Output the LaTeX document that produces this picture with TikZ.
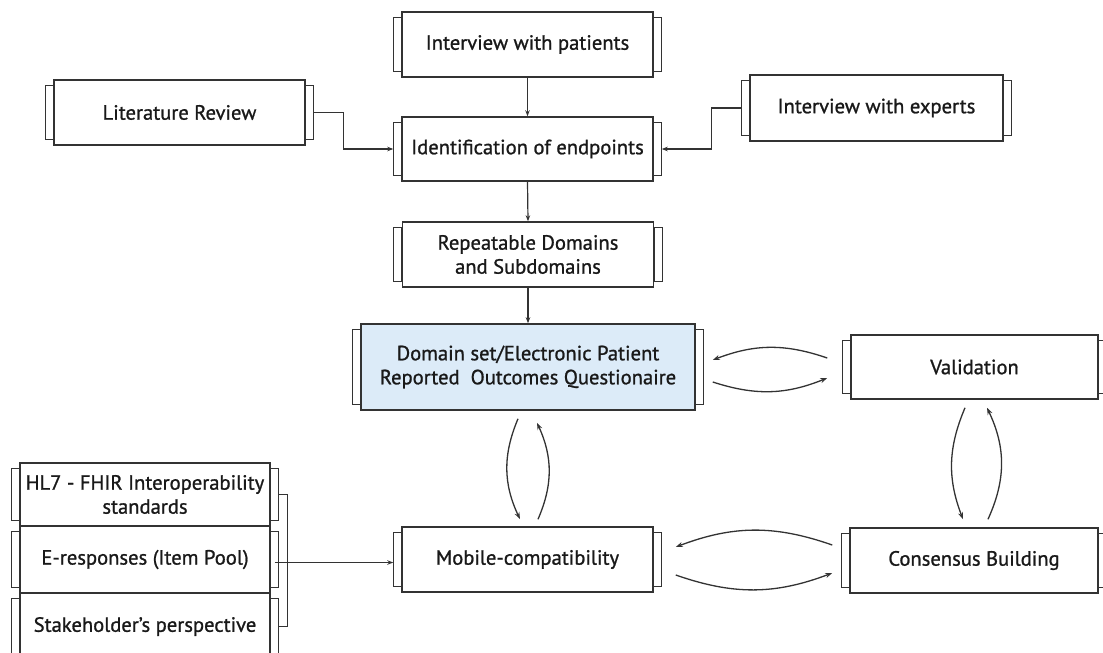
\documentclass[tikz,border=0pt]{standalone}
\usepackage{fontspec}
\setmainfont{PT Sans}
\newfontfamily\boxfont{PT Sans}[FakeBold=1.0]
\usetikzlibrary{arrows.meta,calc}
\definecolor{linec}{HTML}{333333}
\definecolor{domfill}{HTML}{DCEBF8}
\tikzset{
  procbox/.style={draw=linec, line width=1.5pt, fill=white, rectangle, inner sep=0pt, align=center,
    font=\boxfont\fontsize{20.6}{24}\selectfont, text=black!90},
  tabst/.style={draw=linec, line width=1.2pt, fill=white},
  conn/.style={draw=linec, line width=1.2pt, -{Stealth[length=6pt,width=4.5pt]}},
  arc/.style={draw=linec, line width=1.3pt, -{Stealth[length=7pt,width=5pt]}},
  plain/.style={draw=linec, line width=1.2pt}
}
\begin{document}
\begin{tikzpicture}[x=1pt,y=-1pt]
\clip (0,0) rectangle (1103,653);
\fill[white] (0,0) rectangle (1103,653);
% boxes
\node[procbox, minimum width=251pt, minimum height=65pt] (pat) at (527.5,44.5) {Interview with patients};
\node[procbox, minimum width=251pt, minimum height=64pt] (ident) at (527.5,149) {Identification of endpoints};
\node[procbox, minimum width=251pt, minimum height=65pt] (lit) at (179.5,112.5) {Literature Review};
\node[procbox, minimum width=253pt, minimum height=66pt] (exp) at (876.5,108) {Interview with experts};
\node[procbox, minimum width=251pt, minimum height=65pt] (rep) at (528,254.5) {Repeatable Domains\\and Subdomains};
\node[procbox, fill=domfill, minimum width=334pt, minimum height=86pt] (dom) at (528,367) {Domain set/Electronic Patient\\Reported\ \ Outcomes Questionaire};
\node[procbox, minimum width=247pt, minimum height=64pt] (val) at (974.5,367) {Validation};
\node[procbox, minimum width=251pt, minimum height=65pt] (mob) at (527.5,559.5) {Mobile-compatibility};
\node[procbox, minimum width=248pt, minimum height=65pt] (con) at (974,560.5) {Consensus Building};
\node[procbox, minimum width=250pt, minimum height=63pt] (hl7) at (145,494.5) {HL7 - FHIR Interoperability\\standards};
\node[procbox, minimum width=250pt, minimum height=67pt] (eres) at (145,559.5) {E-responses (Item Pool)};
\node[procbox, minimum width=250pt, minimum height=67pt] (stake) at (145,626.5) {Stakeholder’s perspective};
% side tabs
\foreach \n in {pat,ident,lit,exp,rep,dom,val,mob,con,hl7,eres,stake}{
  \draw[tabst] ([yshift=-6pt]\n.north west) rectangle ([xshift=-8pt,yshift=6pt]\n.south west);
  \draw[tabst] ([yshift=-6pt]\n.north east) rectangle ([xshift=8pt,yshift=6pt]\n.south east);
}
\coordinate (litR) at ([xshift=8pt]lit.east);
\coordinate (expL) at ([xshift=-8pt]exp.west);
\coordinate (identL) at ([xshift=-8pt]ident.west);
\coordinate (identR) at ([xshift=8pt]ident.east);
\coordinate (hl7R) at ([xshift=8pt]hl7.east);
\coordinate (stakeR) at ([xshift=8pt]stake.east);
\coordinate (eresR) at ([xshift=4pt]eres.east);
\coordinate (mobL) at ([xshift=-8pt,yshift=-3pt]mob.west);
% straight connectors
\draw[conn] (pat.south) -- (ident.north);
\draw[conn] (ident.south) -- (rep.north);
\draw[conn] (rep.south) -- (dom.north);
\draw[conn] (litR) -- ++(30,0) |- (identL);
\draw[conn] (expL) -- ++(-30,0) |- (identR);
\draw[plain] (hl7R) -- ++(9,0) |- (stakeR);
\draw[conn] (eresR |- mobL) -- (mobL);
% curved connectors
\draw[arc] ([xshift=-23pt,yshift=9pt]val.west) to[bend right=20] ([xshift=17pt,yshift=7pt]dom.east);
\draw[arc] ([xshift=17pt,yshift=-15pt]dom.east) to[bend right=20] ([xshift=-23pt,yshift=-11pt]val.west);
\draw[arc] ([xshift=-10pt,yshift=-8pt]dom.south) to[bend right=24] ([xshift=-7.5pt,yshift=7pt]mob.north);
\draw[arc] ([xshift=10.5pt,yshift=7pt]mob.north) to[bend right=24] ([xshift=9pt,yshift=-12pt]dom.south);
\draw[arc] ([xshift=-9.5pt,yshift=-8pt]val.south) to[bend right=22] ([xshift=-11pt,yshift=8pt]con.north);
\draw[arc] ([xshift=14pt,yshift=8pt]con.north) to[bend right=25] ([xshift=12.5pt,yshift=-8pt]val.south);
\draw[arc] ([xshift=-17pt,yshift=15.5pt]con.west) to[bend right=20] ([xshift=22pt,yshift=12.5pt]mob.east);
\draw[arc] ([xshift=22pt,yshift=-15.5pt]mob.east) to[bend right=20] ([xshift=-17pt,yshift=-12.5pt]con.west);
\end{tikzpicture}
\end{document}
